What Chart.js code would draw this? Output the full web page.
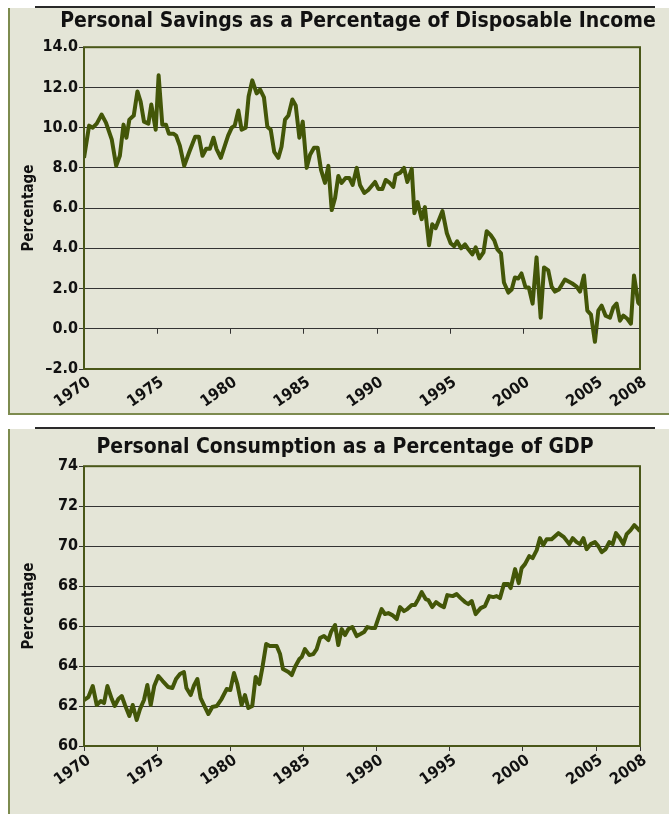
<!DOCTYPE html>
<html>
<head>
<meta charset="utf-8">
<script src="https://cdn.jsdelivr.net/npm/chart.js@4.4.1/dist/chart.umd.min.js"></script>
<style>
  html, body { margin: 0; padding: 0; background: #fff; overflow: hidden; }
  body { width: 669px; height: 814px; position: relative; }
  .rule { position: absolute; left: 35px; width: 620px; height: 2px; background: #2a2a2a; }
  .panel { position: absolute; left: 8px; width: 720px; background: #e4e5d7;
           border-left: 2px solid #7d8b4f; box-sizing: border-box; overflow: hidden; }
  .panel canvas { position: absolute; left: 0; }
</style>
</head>
<body>
<div class="rule" style="top:6px"></div>
<div class="panel" style="top:8px; height:407px; border-bottom:2px solid #7d8b4f">
  <canvas id="savChart" width="696" height="404" style="top:0"></canvas>
</div>
<div class="rule" style="top:427px"></div>
<div class="panel" style="top:429px; height:390px">
  <canvas id="conChart" width="670" height="385" style="top:0"></canvas>
</div>
<script>
// x tick labels (years)
var xTicks = [1970, 1975, 1980, 1985, 1990, 1995, 2000, 2005, 2008];

// Personal savings as % of disposable income
var savYears = [1970.0, 1970.35, 1970.6, 1970.87, 1971.2, 1971.5, 1971.9, 1972.2, 1972.45, 1972.7,
  1972.9, 1973.1, 1973.4, 1973.65, 1973.87, 1974.1, 1974.4, 1974.6, 1974.9, 1975.1,
  1975.35, 1975.6, 1975.8, 1976.1, 1976.3, 1976.55, 1976.85, 1977.2, 1977.6, 1977.85,
  1978.1, 1978.35, 1978.6, 1978.85, 1979.05, 1979.35, 1979.85, 1980.1, 1980.3, 1980.55,
  1980.77, 1981.05, 1981.25, 1981.5, 1981.8, 1982.03, 1982.3, 1982.53, 1982.76, 1983.0,
  1983.28, 1983.5, 1983.74, 1983.97, 1984.24, 1984.47, 1984.72, 1984.95, 1985.22, 1985.45,
  1985.72, 1985.97, 1986.2, 1986.47, 1986.7, 1986.93, 1987.16, 1987.38, 1987.6, 1987.88,
  1988.13, 1988.36, 1988.64, 1988.86, 1989.16, 1989.43, 1989.89, 1990.12, 1990.39, 1990.62,
  1990.9, 1991.14, 1991.3, 1991.6, 1991.87, 1992.1, 1992.4, 1992.58, 1992.8, 1993.08,
  1993.3, 1993.58, 1993.8, 1994.03, 1994.5, 1994.8, 1995.06, 1995.3, 1995.5, 1995.77,
  1996.04, 1996.27, 1996.54, 1996.77, 1997.02, 1997.3, 1997.52, 1997.8, 1998.04, 1998.25,
  1998.5, 1998.7, 1999.0, 1999.23, 1999.45, 1999.68, 1999.9, 2000.18, 2000.4, 2000.66,
  2000.93, 2001.21, 2001.44, 2001.73, 2001.96, 2002.19, 2002.46, 2002.87, 2003.37, 2003.67,
  2003.9, 2004.17, 2004.4, 2004.65, 2004.92, 2005.15, 2005.38, 2005.65, 2005.95, 2006.17,
  2006.4, 2006.63, 2006.86, 2007.13, 2007.38, 2007.59, 2007.88, 2008.0];
var savRate = [8.5, 10.1, 10.0, 10.2, 10.65, 10.25, 9.4, 8.1, 8.6, 10.15,
  9.5, 10.4, 10.6, 11.8, 11.3, 10.3, 10.2, 11.15, 9.9, 12.6,
  10.15, 10.15, 9.7, 9.7, 9.6, 9.1, 8.1, 8.8, 9.55, 9.55,
  8.6, 8.95, 8.95, 9.5, 8.95, 8.5, 9.6, 10.0, 10.1, 10.85,
  9.9, 10.0, 11.55, 12.35, 11.7, 11.9, 11.5, 10.05, 9.9, 8.8,
  8.5, 9.05, 10.4, 10.6, 11.4, 11.1, 9.5, 10.3, 8.0, 8.65,
  9.0, 9.0, 7.9, 7.25, 8.1, 5.9, 6.5, 7.6, 7.25, 7.5,
  7.5, 7.15, 8.0, 7.15, 6.75, 6.9, 7.3, 6.95, 6.95, 7.4,
  7.25, 7.05, 7.65, 7.75, 8.0, 7.3, 7.95, 5.75, 6.3, 5.45,
  6.05, 4.15, 5.2, 5.0, 5.85, 4.75, 4.25, 4.1, 4.35, 4.0,
  4.2, 3.95, 3.7, 4.05, 3.5, 3.8, 4.85, 4.65, 4.4, 3.95,
  3.75, 2.3, 1.8, 1.95, 2.55, 2.5, 2.75, 2.05, 2.05, 1.25,
  3.55, 0.55, 3.05, 2.9, 2.1, 1.85, 1.95, 2.45, 2.25, 2.1,
  1.85, 2.65, 0.9, 0.7, -0.65, 0.9, 1.15, 0.65, 0.55, 1.05,
  1.25, 0.4, 0.65, 0.5, 0.25, 2.65, 1.3, 1.2];

// Personal consumption as % of GDP
var conYears = [1970.0, 1970.3, 1970.6, 1970.87, 1971.14, 1971.37, 1971.6, 1971.9, 1972.1, 1972.35,
  1972.58, 1972.8, 1973.1, 1973.33, 1973.6, 1973.83, 1974.1, 1974.33, 1974.56, 1974.8,
  1975.08, 1975.38, 1975.76, 1976.04, 1976.29, 1976.56, 1976.83, 1977.0, 1977.29, 1977.5,
  1977.75, 1977.97, 1978.2, 1978.5, 1978.77, 1979.07, 1979.4, 1979.75, 1980.0, 1980.25,
  1980.48, 1980.77, 1981.0, 1981.23, 1981.5, 1981.73, 1981.98, 1982.2, 1982.45, 1982.7,
  1983.17, 1983.4, 1983.6, 1983.97, 1984.2, 1984.42, 1984.72, 1984.88, 1985.1, 1985.4,
  1985.67, 1985.9, 1986.13, 1986.4, 1986.7, 1986.88, 1987.16, 1987.38, 1987.61, 1987.84,
  1988.07, 1988.34, 1988.64, 1988.9, 1989.14, 1989.36, 1989.66, 1989.89, 1990.12, 1990.34,
  1990.57, 1990.8, 1991.07, 1991.37, 1991.6, 1991.87, 1992.1, 1992.4, 1992.62, 1992.85,
  1993.08, 1993.35, 1993.53, 1993.8, 1994.06, 1994.33, 1994.6, 1994.83, 1995.2, 1995.47,
  1995.74, 1996.04, 1996.27, 1996.5, 1996.77, 1997.11, 1997.4, 1997.7, 1997.97, 1998.2,
  1998.43, 1998.7, 1999.0, 1999.16, 1999.46, 1999.71, 1999.91, 2000.14, 2000.43, 2000.66,
  2000.94, 2001.16, 2001.39, 2001.62, 2001.96, 2002.42, 2002.8, 2003.17, 2003.4, 2003.67,
  2003.9, 2004.13, 2004.35, 2004.63, 2004.92, 2005.15, 2005.38, 2005.65, 2005.9, 2006.13,
  2006.36, 2006.63, 2006.86, 2007.09, 2007.36, 2007.61, 2007.88, 2008.0];
var conShare = [62.3, 62.45, 63.0, 62.05, 62.25, 62.15, 63.0, 62.35, 62.0, 62.35,
  62.5, 62.05, 61.5, 62.05, 61.3, 61.85, 62.3, 63.05, 62.05, 63.0,
  63.5, 63.25, 62.95, 62.9, 63.35, 63.6, 63.7, 62.9, 62.55, 63.0,
  63.35, 62.4, 62.05, 61.6, 61.95, 62.0, 62.35, 62.85, 62.8, 63.65,
  63.1, 62.05, 62.55, 61.9, 62.0, 63.45, 63.1, 63.95, 65.1, 65.0,
  65.0, 64.6, 63.85, 63.7, 63.55, 63.95, 64.35, 64.45, 64.85, 64.55,
  64.6, 64.85, 65.4, 65.5, 65.3, 65.7, 66.05, 65.05, 65.85, 65.55,
  65.85, 65.95, 65.5, 65.6, 65.7, 65.95, 65.9, 65.9, 66.4, 66.85,
  66.6, 66.65, 66.55, 66.35, 66.95, 66.75, 66.85, 67.05, 67.05, 67.35,
  67.7, 67.35, 67.3, 66.95, 67.2, 67.05, 66.95, 67.55, 67.5, 67.6,
  67.4, 67.2, 67.1, 67.25, 66.6, 66.9, 67.0, 67.5, 67.45, 67.5,
  67.4, 68.1, 68.1, 67.9, 68.85, 68.15, 68.9, 69.1, 69.5, 69.4,
  69.8, 70.4, 70.05, 70.35, 70.35, 70.65, 70.45, 70.1, 70.4, 70.2,
  70.1, 70.4, 69.85, 70.1, 70.2, 70.0, 69.7, 69.85, 70.2, 70.1,
  70.65, 70.4, 70.1, 70.6, 70.8, 71.05, 70.85, 70.75];

Chart.defaults.font.family = "'DejaVu Sans Condensed', 'Liberation Sans', Arial, sans-serif";
Chart.defaults.font.weight = 'bold';
Chart.defaults.color = '#111';

var lineColor = '#435608';
var frameColor = '#4a5719';
var gridColor = '#333';

// plot frame + optional tick marks on the zero line
var framePlugin = {
  id: 'frame',
  afterDatasetsDraw: function (chart, args, opts) {
    var ctx = chart.ctx, a = chart.chartArea, sx = chart.scales.x, sy = chart.scales.y;
    ctx.save();
    if (opts.zeroTicks) {
      var y0 = sy.getPixelForValue(0);
      ctx.strokeStyle = gridColor;
      ctx.lineWidth = 1;
      sx.ticks.forEach(function (t) {
        var x = Math.round(sx.getPixelForValue(t.value)) + 0.5;
        ctx.beginPath();
        ctx.moveTo(x, y0);
        ctx.lineTo(x, y0 + 5);
        ctx.stroke();
      });
    }
    ctx.strokeStyle = frameColor;
    ctx.lineWidth = 2;
    ctx.strokeRect(a.left, a.top, a.width, a.height);
    ctx.restore();
  }
};

function makeChart(id, o) {
  var pts = o.xs.map(function (x, i) { return { x: x, y: o.ys[i] }; });
  return new Chart(document.getElementById(id), {
    type: 'line',
    data: {
      datasets: [{
        data: pts,
        borderColor: lineColor,
        borderWidth: 4,
        borderJoinStyle: 'round',
        pointRadius: 0,
        tension: 0
      }]
    },
    options: {
      responsive: false,
      animation: false,
      layout: { padding: { left: 0, right: 0, top: 0, bottom: o.padBottom } },
      plugins: {
        legend: { display: false },
        tooltip: { enabled: false },
        title: {
          display: true,
          text: o.title,
          color: '#111',
          font: { size: 21, weight: 'bold' },
          padding: { top: o.titleTop, bottom: o.titleBottom }
        },
        frame: { zeroTicks: o.zeroTicks }
      },
      scales: {
        x: {
          type: 'linear',
          min: 1970,
          max: 2008,
          afterBuildTicks: function (s) { s.ticks = xTicks.map(function (v) { return { value: v }; }); },
          afterFit: function (s) { s.height = 43; },
          grid: {
            display: true,
            drawOnChartArea: false,
            drawTicks: !o.zeroTicks,
            tickLength: 5,
            color: gridColor
          },
          border: { display: false },
          ticks: {
            autoSkip: false,
            minRotation: 35,
            maxRotation: 35,
            padding: o.zeroTicks ? 4 : 0,
            labelOffset: 5,
            font: { size: 16, weight: 'bold' },
            callback: function (v) { return String(v); }
          }
        },
        y: {
          min: o.yMin,
          max: o.yMax,
          afterFit: function (s) { s.width = 74; },
          grid: { color: gridColor, lineWidth: 1, tickLength: 5, tickColor: gridColor },
          border: { display: false },
          ticks: {
            stepSize: 2,
            padding: 1,
            font: { size: 16, weight: 'bold' },
            callback: o.yFmt
          },
          title: {
            display: true,
            text: 'Percentage',
            color: '#111',
            font: { size: 15, weight: 'bold' },
            padding: { top: 10, bottom: 0 }
          }
        },
        yr: {
          position: 'right',
          afterFit: function (s) { s.width = o.rightW; },
          grid: { display: false },
          border: { display: false },
          ticks: { display: false }
        }
      }
    },
    plugins: [framePlugin]
  });
}

makeChart('savChart', {
  title: 'Personal Savings as a Percentage of Disposable Income',
  xs: savYears, ys: savRate,
  yMin: -2, yMax: 14,
  yFmt: function (v) { return v < 0 ? '\u2013' + Math.abs(v).toFixed(1) : v.toFixed(1); },
  titleTop: 1, titleBottom: 13,
  padBottom: 0, rightW: 66, zeroTicks: true
});

makeChart('conChart', {
  title: 'Personal Consumption as a Percentage of GDP',
  xs: conYears, ys: conShare,
  yMin: 60, yMax: 74,
  yFmt: function (v) { return String(v); },
  titleTop: 6, titleBottom: 6,
  padBottom: 25, rightW: 40, zeroTicks: false
});
</script>
</body>
</html>
